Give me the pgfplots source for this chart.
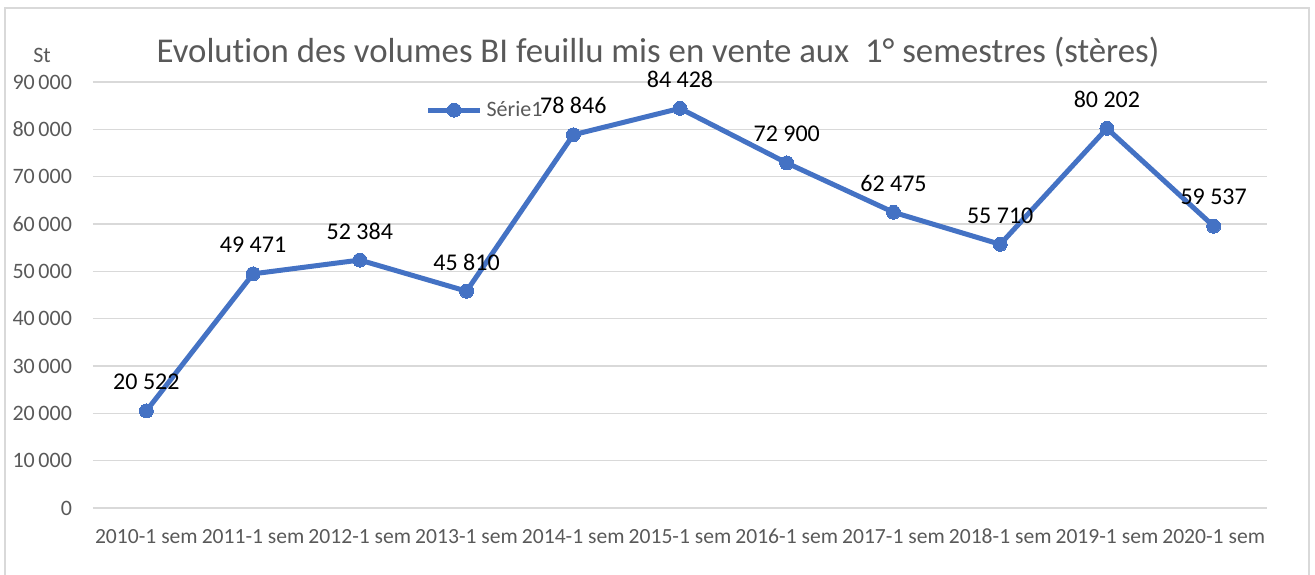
\documentclass[border=0pt]{standalone}
\usepackage{fontspec}
\setmainfont{Carlito}[Ligatures=NoCommon]
\usepackage{pgfplots}
\pgfplotsset{compat=1.18}
\definecolor{serie}{HTML}{4472C4}
\definecolor{txtgray}{HTML}{595959}
\definecolor{gridgray}{HTML}{D9D9D9}
\begin{document}
\begin{tikzpicture}
\useasboundingbox (-46.5pt,-33pt) rectangle (611pt,254pt);
% outer chart frame (bottom edge falls outside the picture)
\draw[gridgray, line width=1pt] (-44pt,-40pt) -- (-44pt,250pt) -- (608pt,250pt) -- (608pt,-40pt);
\begin{axis}[
    at={(0,0)}, anchor=south west,
    scale only axis, width=587pt, height=213pt,
    xmin=-0.5, xmax=10.5, ymin=0, ymax=90000,
    xtick={0,...,10},
    xticklabels={2010-1 sem,2011-1 sem,2012-1 sem,2013-1 sem,2014-1 sem,2015-1 sem,2016-1 sem,2017-1 sem,2018-1 sem,2019-1 sem,2020-1 sem},
    ytick={0,10000,...,90000},
    scaled y ticks=false,
    /pgf/number format/1000 sep={\,},
    /pgf/number format/assume math mode=true,
    ticklabel style={font=\fontsize{11}{13}\selectfont, text=txtgray},
    yticklabel style={xshift=-7pt},
    xticklabel style={yshift=-7pt, font=\fontsize{10.8}{13}\selectfont},
    major tick length=0pt,
    axis line style={draw=none},
    ymajorgrids, grid style={gridgray, line width=0.75pt},
    legend style={at={(0.283,0.934)}, anchor=west, draw=none, fill=none,
        font=\fontsize{11}{13}\selectfont, text=txtgray, inner sep=0pt},
    legend image code/.code={\draw[mark repeat=2, mark phase=2, #1] plot coordinates {(0pt,0pt) (13pt,0pt) (26pt,0pt)};},
]
\addplot[serie, line width=2.5pt, mark=*, mark size=3.5pt,
    mark options={fill=serie, draw=serie, line width=0pt},
    nodes near coords={\pgfmathprintnumber[fixed,precision=0,1000 sep={\ }]{\pgfplotspointmeta}},
    every node near coord/.append style={anchor=center, yshift=14.5pt, inner sep=0pt,
        font=\fontsize{12}{14}\selectfont, text=black}]
    coordinates {(0,20522) (1,49471) (2,52384) (3,45810) (4,78846) (5,84428)
                 (6,72900) (7,62475) (8,55710) (9,80202) (10,59537)};
\addlegendentry{Série1}
\end{axis}
\node[text=txtgray, inner sep=0pt, font=\fontsize{17.4}{21}\selectfont] at (282.5pt,228pt)
    {Evolution des volumes BI feuillu mis en vente aux\ \ 1° semestres (stères)};
\node[text=txtgray, font=\fontsize{11}{13}\selectfont] at (-25.5pt,226.5pt) {St};
\end{tikzpicture}
\end{document}
